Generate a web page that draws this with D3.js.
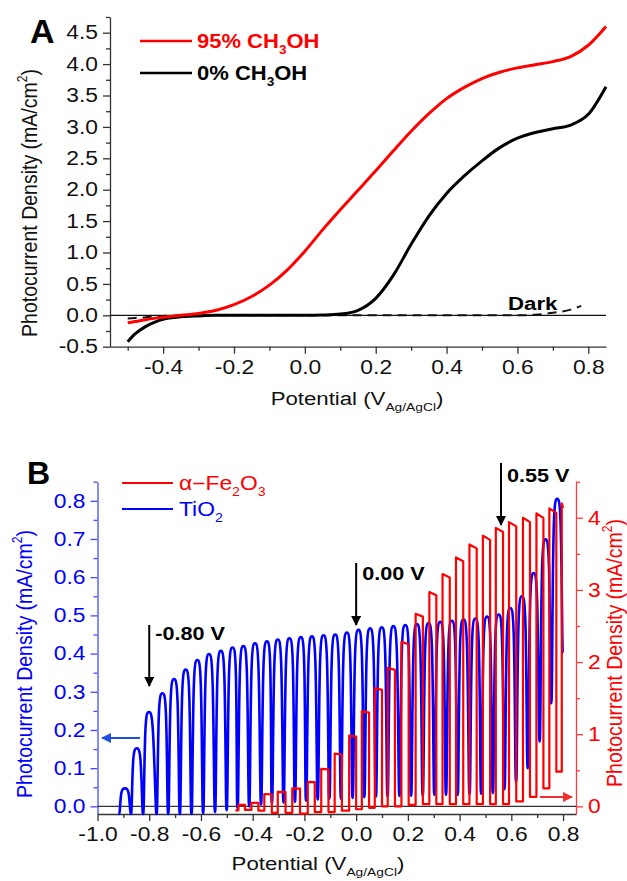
<!DOCTYPE html>
<html>
<head>
<meta charset="utf-8">
<script src="https://cdn.jsdelivr.net/npm/d3@7"></script>
<style>
  body { margin: 0; background: #fff; }
  svg { display: block; }
  text { font-family: Arial, "Liberation Sans", sans-serif; }
</style>
</head>
<body>
<svg id="fig" width="627" height="881"></svg>
<script>
// ---------- Panel A: linear sweep voltammograms ----------
const potentialA = [-0.5, -0.48, -0.45, -0.42, -0.4, -0.35, -0.3, -0.25, -0.2, -0.15, -0.1, -0.05, 0, 0.05, 0.1, 0.15, 0.2, 0.25, 0.3, 0.35, 0.4, 0.45, 0.5, 0.55, 0.6, 0.65, 0.7, 0.75, 0.8, 0.85];
const methanol95 = [-0.12, -0.10, -0.07, -0.045, -0.03, 0.0, 0.03, 0.08, 0.17, 0.30, 0.48, 0.72, 1.02, 1.36, 1.68, 1.99, 2.30, 2.62, 2.93, 3.21, 3.45, 3.63, 3.77, 3.87, 3.94, 3.99, 4.04, 4.12, 4.30, 4.60];
const methanol0 = [-0.42, -0.30, -0.18, -0.10, -0.065, -0.025, -0.01, 0, 0, 0, 0, 0, 0, 0.005, 0.02, 0.08, 0.27, 0.64, 1.13, 1.58, 1.94, 2.22, 2.46, 2.67, 2.82, 2.91, 2.97, 3.03, 3.20, 3.64];
const darkPotential = [-0.5, -0.45, -0.4, -0.3, -0.2, 0, 0.2, 0.4, 0.6, 0.65, 0.7, 0.75, 0.78];
const darkCurrent = [-0.05, -0.03, -0.01, 0, 0, 0, 0, 0, 0, 0.01, 0.04, 0.09, 0.15];
const xTicksA = [-0.4, -0.2, 0.0, 0.2, 0.4, 0.6, 0.8];
const yTicksA = [-0.5, 0.0, 0.5, 1.0, 1.5, 2.0, 2.5, 3.0, 3.5, 4.0, 4.5];

// ---------- Panel B: chopped-light photocurrent ----------
const tio2Potential = [-0.894, -0.848, -0.801, -0.749, -0.704, -0.659, -0.614, -0.569, -0.523, -0.478, -0.436, -0.391, -0.345, -0.303, -0.258, -0.214, -0.171, -0.126, -0.081, -0.036, 0.009, 0.054, 0.099, 0.144, 0.190, 0.235, 0.280, 0.325, 0.370, 0.415, 0.461, 0.506, 0.551, 0.596, 0.641, 0.686, 0.732, 0.777];
const tio2Light = [0.047, 0.152, 0.247, 0.296, 0.333, 0.358, 0.383, 0.399, 0.407, 0.416, 0.420, 0.427, 0.432, 0.437, 0.440, 0.443, 0.445, 0.448, 0.450, 0.455, 0.462, 0.466, 0.469, 0.472, 0.475, 0.477, 0.480, 0.483, 0.486, 0.490, 0.492, 0.497, 0.502, 0.519, 0.550, 0.611, 0.699, 0.805];
const tio2Dark = [-0.02, -0.02, -0.02, -0.02, -0.02, -0.02, -0.02, -0.018, -0.015, -0.01, -0.005, 0.0, 0.005, 0.008, 0.01, 0.012, 0.015, 0.018, 0.02, 0.02, 0.022, 0.024, 0.025, 0.026, 0.027, 0.028, 0.028, 0.03, 0.03, 0.03, 0.032, 0.033, 0.035, 0.045, 0.065, 0.10, 0.17, 0.27, 0.40];

// light-on / light-off potentials of each Fe2O3 pulse
const fe2o3On = [-0.455, -0.405, -0.355, -0.303, -0.247, -0.187, -0.135, -0.083, -0.027, 0.022, 0.072, 0.122, 0.175, 0.230, 0.283, 0.334, 0.386, 0.438, 0.490, 0.540, 0.591, 0.645, 0.697, 0.747, 0.795];
const fe2o3Off = [-0.430, -0.378, -0.326, -0.273, -0.217, -0.160, -0.107, -0.055, 0.000, 0.050, 0.100, 0.150, 0.203, 0.258, 0.310, 0.362, 0.414, 0.466, 0.518, 0.568, 0.619, 0.672, 0.724, 0.774, 0.800];
const fe2o3Light = [0.02, 0.05, 0.17, 0.20, 0.25, 0.34, 0.52, 0.73, 0.98, 1.32, 1.64, 1.92, 2.28, 2.67, 2.97, 3.22, 3.45, 3.63, 3.75, 3.86, 3.94, 4.00, 4.06, 4.13, 4.20];
const fe2o3Dark = [-0.055, -0.05, -0.06, -0.09, -0.09, -0.10, -0.08, -0.08, -0.06, -0.04, -0.02, 0.0, 0.0, 0.02, 0.03, 0.03, 0.03, 0.03, 0.03, 0.03, 0.03, 0.07, 0.13, 0.25, 0.48];

const xTicksB = [-1.0, -0.8, -0.6, -0.4, -0.2, 0.0, 0.2, 0.4, 0.6, 0.8];
const yTicksBL = [0.0, 0.1, 0.2, 0.3, 0.4, 0.5, 0.6, 0.7, 0.8];
const yTicksBR = [0, 1, 2, 3, 4];

const RED = "#ff0000", BLUE = "#0000ff";
const SX = 1.17; // horizontal widening of the lettering
const svg = d3.select("#fig");
const fmt1 = d => d.toFixed(1);

// widen a text element about its anchor point (x attribute)
function widen(sel, base, sx) {
  const s = sx || SX;
  sel.each(function () {
    const el = d3.select(this);
    const x = +el.attr("x") || 0;
    el.attr("transform", `${base || ""} translate(${x},0) scale(${s},1) translate(${-x},0)`);
  });
  return sel;
}

// rich text helper: parts = [[text, "sub"|"sup"|undefined], ...]
function rich(t, parts, size) {
  let shift = 0;
  parts.forEach(([s, kind]) => {
    const ts = t.append("tspan").text(s);
    if (kind === "sub") {
      ts.attr("font-size", size * 0.62).attr("dy", size * 0.32 - shift); shift = size * 0.32;
    } else if (kind === "sup") {
      ts.attr("font-size", size * 0.62).attr("dy", -size * 0.42 - shift); shift = -size * 0.42;
    } else {
      ts.attr("font-size", size);
      if (shift !== 0) { ts.attr("dy", -shift); shift = 0; }
    }
  });
  return t;
}

function styleAxis(g, color, textColor, fontSize) {
  g.select(".domain").attr("stroke", color).attr("stroke-width", 1.3);
  g.selectAll(".tick line").attr("stroke", color).attr("stroke-width", 1.3);
  g.selectAll(".tick text").attr("fill", textColor)
    .attr("font-size", fontSize).attr("font-family", "Arial, 'Liberation Sans', sans-serif");
  widen(g.selectAll(".tick text"));
}

function minorAxis(parent, axis, transform, color) {
  parent.append("g").attr("transform", transform)
    .call(axis.tickSize(4).tickFormat(""))
    .call(g => { g.select(".domain").remove(); g.selectAll("line").attr("stroke", color).attr("stroke-width", 1.3); });
}

// vertical axis title, thickened across the reading direction
function yTitle(parent, x, y, color) {
  return rich(parent.append("text")
    .attr("transform", `translate(${x},${y}) rotate(-90) scale(1,${SX})`)
    .attr("text-anchor", "middle").attr("fill", color),
    [["Photocurrent Density (mA/cm"], ["2", "sup"], [")"]], 19.5);
}

// ================= Panel A =================
const xA = d3.scaleLinear().domain([-0.55, 0.85]).range([110, 606]);
const yA = d3.scaleLinear().domain([-0.5, 4.75]).range([346.7, 17]);
const gA = svg.append("g");

minorAxis(gA, d3.axisBottom(xA).tickValues(d3.range(-0.5, 0.85, 0.2)), `translate(0,${yA(-0.5)})`, "#333");
minorAxis(gA, d3.axisLeft(yA).tickValues(d3.range(-0.25, 4.8, 0.5)), `translate(${xA(-0.55)},0)`, "#333");
gA.append("g").attr("transform", `translate(0,${yA(-0.5)})`)
  .call(d3.axisBottom(xA).tickValues(xTicksA).tickFormat(fmt1).tickSize(7).tickSizeOuter(0).tickPadding(6))
  .call(g => styleAxis(g, "#333", "#111", 19.5));
gA.append("g").attr("transform", `translate(${xA(-0.55)},0)`)
  .call(d3.axisLeft(yA).tickValues(yTicksA).tickFormat(fmt1).tickSize(7).tickSizeOuter(0).tickPadding(5))
  .call(g => styleAxis(g, "#333", "#111", 19.5));

// zero reference line
gA.append("line").attr("x1", xA(-0.55)).attr("x2", xA(0.85)).attr("y1", yA(0)).attr("y2", yA(0))
  .attr("stroke", "#111").attr("stroke-width", 1.2);

const lineA = d3.line().curve(d3.curveMonotoneX);
gA.append("path")
  .attr("d", lineA(darkPotential.map((v, i) => [xA(v), yA(darkCurrent[i])])))
  .attr("fill", "none").attr("stroke", "#111").attr("stroke-width", 2).attr("stroke-dasharray", "9,6");
gA.append("path")
  .attr("d", lineA(potentialA.map((v, i) => [xA(v), yA(methanol0[i])])))
  .attr("fill", "none").attr("stroke", "#000").attr("stroke-width", 3);
gA.append("path")
  .attr("d", lineA(potentialA.map((v, i) => [xA(v), yA(methanol95[i])])))
  .attr("fill", "none").attr("stroke", RED).attr("stroke-width", 3);

// legend
gA.append("line").attr("x1", 140).attr("x2", 192).attr("y1", 41).attr("y2", 41).attr("stroke", RED).attr("stroke-width", 2.5);
widen(rich(gA.append("text").attr("x", 197).attr("y", 48).attr("fill", RED).attr("font-weight", "bold"),
  [["95% CH"], ["3", "sub"], ["OH"]], 20), "", 1.1);
gA.append("line").attr("x1", 140).attr("x2", 192).attr("y1", 73).attr("y2", 73).attr("stroke", "#000").attr("stroke-width", 2.5);
widen(rich(gA.append("text").attr("x", 197).attr("y", 80).attr("fill", "#000").attr("font-weight", "bold"),
  [["0% CH"], ["3", "sub"], ["OH"]], 20), "", 1.1);

widen(gA.append("text").attr("x", 508).attr("y", 310).attr("font-weight", "bold").attr("font-size", 19).text("Dark"));
gA.append("text").attr("x", 30).attr("y", 43).attr("font-weight", "bold").attr("font-size", 34).text("A");

// axis titles
widen(rich(gA.append("text").attr("x", 357).attr("y", 405).attr("text-anchor", "middle").attr("fill", "#111"),
  [["Potential (V"], ["Ag/AgCl", "sub"], [")"]], 19));
yTitle(gA, 37, 203, "#111");

// ================= Panel B =================
const xB = d3.scaleLinear().domain([-1.0, 0.85]).range([97.5, 576]);
const yBL = d3.scaleLinear().domain([-0.02, 0.85]).range([814, 481.7]);
const yBR = d3.scaleLinear().domain([-0.106, 4.5]).range([814, 481.7]);
const gB = svg.append("g");

const AXB = "#333", AXBL = "#4a4aff", AXBR = "#ff3b3b";
minorAxis(gB, d3.axisBottom(xB).tickValues(d3.range(-0.9, 0.85, 0.2)), `translate(0,${yBL(-0.02)})`, AXB);
minorAxis(gB, d3.axisLeft(yBL).tickValues(d3.range(0.05, 0.86, 0.1)), `translate(${xB(-1.0)},0)`, AXBL);
minorAxis(gB, d3.axisRight(yBR).tickValues([0.5, 1.5, 2.5, 3.5, 4.5]), `translate(${xB(0.85)},0)`, AXBR);
gB.append("g").attr("transform", `translate(0,${yBL(-0.02)})`)
  .call(d3.axisBottom(xB).tickValues(xTicksB).tickFormat(fmt1).tickSize(7).tickSizeOuter(0).tickPadding(6))
  .call(g => styleAxis(g, AXB, "#111", 19.5));
gB.append("g").attr("transform", `translate(${xB(-1.0)},0)`)
  .call(d3.axisLeft(yBL).tickValues(yTicksBL).tickFormat(fmt1).tickSize(7).tickSizeOuter(0).tickPadding(5))
  .call(g => styleAxis(g, AXBL, BLUE, 19.5));
gB.append("g").attr("transform", `translate(${xB(0.85)},0)`)
  .call(d3.axisRight(yBR).tickValues(yTicksBR).tickFormat(d3.format("d")).tickSize(7).tickSizeOuter(0).tickPadding(5))
  .call(g => styleAxis(g, AXBR, RED, 19.5));

// zero reference line
gB.append("line").attr("x1", xB(-1.0)).attr("x2", xB(0.85)).attr("y1", yBL(0)).attr("y2", yBL(0))
  .attr("stroke", "#333").attr("stroke-width", 1.2);

// TiO2 trace: rounded light pulses between narrow dark minima
const P = 0.0452;
const tio2Pts = [];
tio2Potential.forEach((c, i) => {
  const d = tio2Dark[i], p = tio2Light[i];
  [-0.56, -0.5, -0.44].forEach(o => tio2Pts.push([c + o * P, d]));
  [-0.34, 0, 0.34].forEach(o => tio2Pts.push([c + o * P, p]));
});
const lastC = tio2Potential[tio2Potential.length - 1];
tio2Pts.push([lastC + 0.44 * P, tio2Dark[tio2Dark.length - 1]]);
tio2Pts.push([lastC + 0.5 * P, tio2Dark[tio2Dark.length - 1]]);

gB.append("path")
  .attr("d", d3.line().curve(d3.curveBasis)(tio2Pts.map(([v, c]) => [xB(v), yBL(c)])))
  .attr("fill", "none").attr("stroke", BLUE).attr("stroke-width", 2.6);

// Fe2O3 trace: square light-on / light-off steps
const fePts = [[fe2o3On[0] - 0.012, fe2o3Dark[0]]];
fe2o3On.forEach((on, i) => {
  const p = fe2o3Light[i];
  fePts.push([on, fe2o3Dark[i]]);
  fePts.push([on, p]);
  fePts.push([fe2o3Off[i], p * 0.985]);
  if (i + 1 < fe2o3Dark.length) fePts.push([fe2o3Off[i], fe2o3Dark[i + 1]]);
});
gB.append("path")
  .attr("d", d3.line()(fePts.map(([v, c]) => [xB(v), yBR(c)])))
  .attr("fill", "none").attr("stroke", RED).attr("stroke-width", 2.2).attr("stroke-linejoin", "round");

// legend
gB.append("line").attr("x1", 122).attr("x2", 173).attr("y1", 483).attr("y2", 483).attr("stroke", RED).attr("stroke-width", 2);
widen(rich(gB.append("text").attr("x", 179).attr("y", 490).attr("fill", RED),
  [["α−Fe"], ["2", "sub"], ["O"], ["3", "sub"]], 19.5));
gB.append("line").attr("x1", 122).attr("x2", 173).attr("y1", 509).attr("y2", 509).attr("stroke", BLUE).attr("stroke-width", 2);
widen(rich(gB.append("text").attr("x", 179).attr("y", 516).attr("fill", BLUE),
  [["TiO"], ["2", "sub"]], 19.5));

gB.append("text").attr("x", 27).attr("y", 484).attr("font-weight", "bold").attr("font-size", 32).text("B");

// potential markers
const markers = [
  { v: -0.80, y0: 625, y1: 686, label: "-0.80 V", ty: 640 },
  { v: 0.00, y0: 563, y1: 625, label: "0.00 V", ty: 580 },
  { v: 0.56, y0: 463, y1: 525, label: "0.55 V", ty: 482 }
];
svg.append("defs").html(`
  <marker id="ahK" viewBox="0 0 10 10" refX="9" refY="5" markerWidth="5" markerHeight="5" orient="auto"><path d="M0,0 L10,5 L0,10 z" fill="#000"/></marker>
  <marker id="ahB" viewBox="0 0 10 10" refX="9" refY="5" markerWidth="5" markerHeight="5" orient="auto"><path d="M0,0 L10,5 L0,10 z" fill="#2050e0"/></marker>
  <marker id="ahR" viewBox="0 0 10 10" refX="9" refY="5" markerWidth="5" markerHeight="5" orient="auto"><path d="M0,0 L10,5 L0,10 z" fill="#f03030"/></marker>`);
markers.forEach(m => {
  gB.append("line").attr("x1", xB(m.v)).attr("x2", xB(m.v)).attr("y1", m.y0).attr("y2", m.y1)
    .attr("stroke", "#000").attr("stroke-width", 2).attr("marker-end", "url(#ahK)");
  widen(gB.append("text").attr("x", xB(m.v) + 6).attr("y", m.ty).attr("font-weight", "bold").attr("font-size", 18.5).text(m.label));
});
// axis pointers
gB.append("line").attr("x1", 140).attr("x2", 102).attr("y1", 738).attr("y2", 738)
  .attr("stroke", "#2050e0").attr("stroke-width", 2).attr("marker-end", "url(#ahB)");
gB.append("line").attr("x1", 540).attr("x2", 572).attr("y1", 797).attr("y2", 797)
  .attr("stroke", "#f03030").attr("stroke-width", 2).attr("marker-end", "url(#ahR)");

// axis titles
widen(rich(gB.append("text").attr("x", 318).attr("y", 870).attr("text-anchor", "middle").attr("fill", "#111"),
  [["Potential (V"], ["Ag/AgCl", "sub"], [")"]], 19));
yTitle(gB, 32, 664, BLUE);
yTitle(gB, 622, 653, RED);
</script>
</body>
</html>
